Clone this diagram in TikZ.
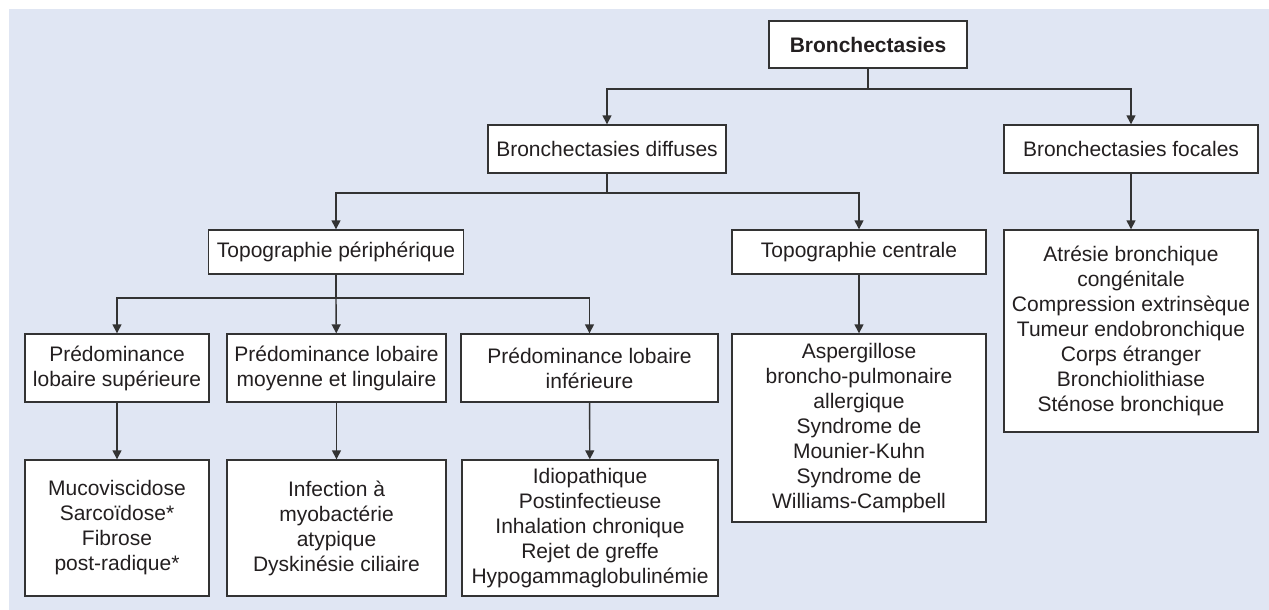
\documentclass[tikz,border=0pt]{standalone}
\usepackage{fontspec}
\setmainfont{Liberation Sans}
\usetikzlibrary{arrows.meta}
\definecolor{bgblue}{HTML}{E0E6F3}
\definecolor{ink}{HTML}{231F20}
\definecolor{linec}{HTML}{333333}
\tikzset{
  box/.style={draw=linec, line width=1.4pt, fill=white, inner sep=0pt, align=center,
    text=ink, font=\fontsize{21}{25}\selectfont},
  arr/.style={draw=linec, line width=1.4pt, -{Triangle[length=9pt,width=9pt]}},
  ln/.style={draw=linec, line width=1.4pt}
}
\begin{document}
\begin{tikzpicture}[x=1pt,y=-1pt]
\useasboundingbox (0,0) rectangle (1269,610);
\fill[bgblue] (9,9) rectangle (1269,610);

% level 0
\node[box, minimum width=198pt, minimum height=47pt, font=\fontsize{21}{25}\selectfont\bfseries] (root) at (868,44.5) {Bronchectasies};
% level 1
\node[box, minimum width=238pt, minimum height=48pt] (diff) at (607,149) {Bronchectasies diffuses};
\node[box, minimum width=254pt, minimum height=48pt] (foc) at (1131,149) {Bronchectasies focales};
% level 2
\node[box, minimum width=255pt, minimum height=44pt] (tper) at (336,252) {Topographie périphérique};
\node[box, minimum width=254pt, minimum height=44pt] (tcen) at (859,252) {Topographie centrale};
\node[box, minimum width=254pt, minimum height=202pt] (flist) at (1131,331) {Atrésie bronchique\\congénitale\\Compression extrinsèque\\Tumeur endobronchique\\Corps étranger\\Bronchiolithiase\\Sténose bronchique};
% level 3
\node[box, minimum width=184pt, minimum height=68pt] (psup) at (117,368) {Prédominance\\lobaire supérieure};
\node[box, minimum width=219pt, minimum height=68pt] (pmoy) at (336.5,368) {Prédominance lobaire\\moyenne et lingulaire};
\node[box, minimum width=257pt, minimum height=68pt] (pinf) at (589.5,368) {Prédominance lobaire\\inférieure};
\node[box, minimum width=254pt, minimum height=188pt] (asp) at (859,428) {Aspergillose\\broncho-pulmonaire\\allergique\\Syndrome de\\Mounier-Kuhn\\Syndrome de\\Williams-Campbell};
% level 4
\node[box, minimum width=184pt, minimum height=136pt] (bsup) at (117,528) {Mucoviscidose\\Sarcoïdose*\\Fibrose\\post-radique*};
\node[box, minimum width=219pt, minimum height=136pt] (bmoy) at (336.5,528) {Infection à\\myobactérie\\atypique\\Dyskinésie ciliaire};
\node[box, minimum width=256pt, minimum height=136pt] (binf) at (590,528) {Idiopathique\\Postinfectieuse\\Inhalation chronique\\Rejet de greffe\\Hypogammaglobulinémie};

% connectors
\coordinate (j1) at (868,89);
\coordinate (j2) at (607,193);
\coordinate (j3) at (336,298);
\draw[ln] (root) -- (j1);
\draw[arr] (j1) -| (diff);
\draw[arr] (j1) -| (foc);
\draw[ln] (diff) -- (j2);
\draw[arr] (j2) -| (tper);
\draw[arr] (j2) -| (tcen);
\draw[arr] (foc) -- (flist);
\draw[ln] (tper) -- (j3);
\draw[arr] (j3) -| (psup);
\draw[arr] (j3) -- (pmoy);
\draw[arr] (j3) -| (pinf);
\draw[arr] (tcen) -- (asp);
\draw[arr] (psup) -- (bsup);
\draw[arr] (pmoy) -- (bmoy);
\draw[arr] (pinf) -- (binf);
\end{tikzpicture}
\end{document}
